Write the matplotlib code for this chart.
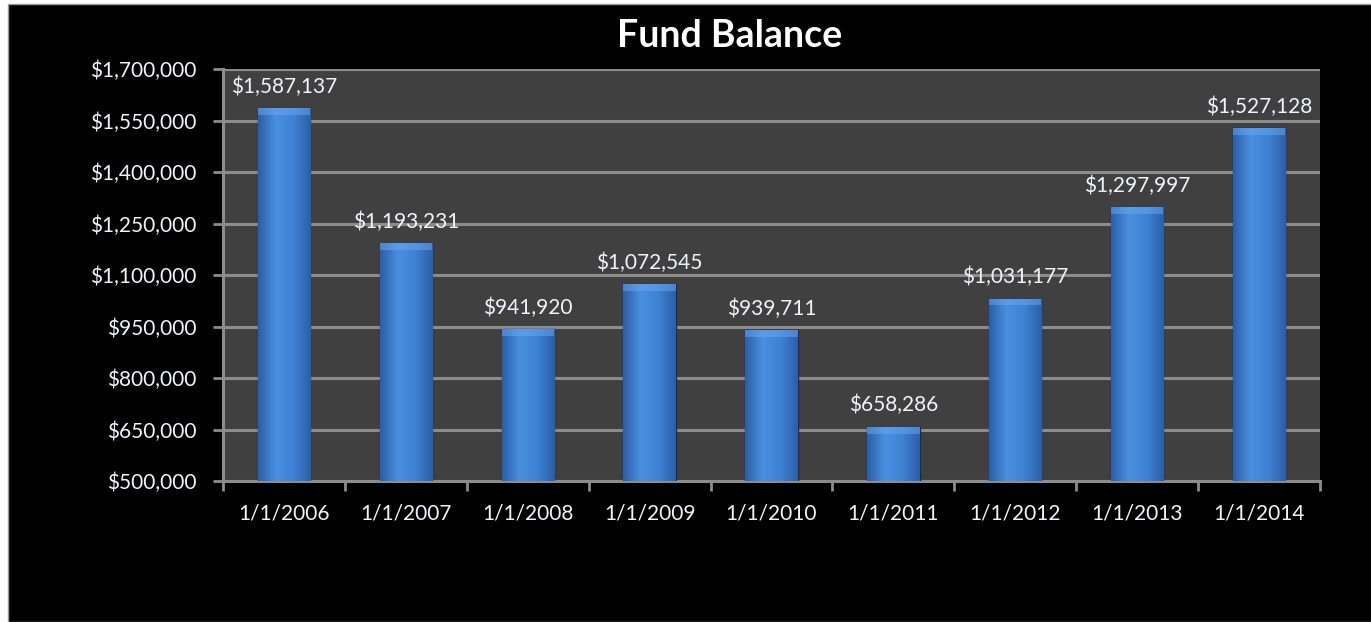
import matplotlib
matplotlib.use('Agg')
import matplotlib.pyplot as plt
import numpy as np
from matplotlib.colors import LinearSegmentedColormap
from matplotlib.patches import Rectangle
from matplotlib.ticker import FuncFormatter

dates = ['1/1/2006', '1/1/2007', '1/1/2008', '1/1/2009', '1/1/2010',
         '1/1/2011', '1/1/2012', '1/1/2013', '1/1/2014']
balance = [1587137, 1193231, 941920, 1072545, 939711,
           658286, 1031177, 1297997, 1527128]
y_ticks = [500000, 650000, 800000, 950000, 1100000, 1250000, 1400000, 1550000, 1700000]

plt.rcParams['font.family'] = ['Lato', 'DejaVu Sans']

fig = plt.figure(figsize=(13.71, 6.22), dpi=100)
fig.patch.set_facecolor('white')
fig.patches.append(Rectangle((8 / 1371, 0), 1, 1 - 4 / 622, transform=fig.transFigure,
                             facecolor='black', edgecolor='#9a9a9a', lw=1, zorder=-10))

ax = fig.add_axes([223 / 1371, 1 - 481 / 622, (1320 - 223) / 1371, (481 - 69) / 622])
ax.set_facecolor('#404040')

x = np.arange(len(dates))
bars = ax.bar(x, [v - y_ticks[0] for v in balance], bottom=y_ticks[0], width=0.43,
              color='#3a7acb', edgecolor='#1b2c55', lw=1, zorder=3)

# shaded bevel look, clipped to each bar
cmap = LinearSegmentedColormap.from_list('bevel', ['#2b5fa8', '#4a8fe0', '#3f82d4', '#2b5fa8'])
grad = np.linspace(0, 1, 64).reshape(1, -1)
for b in bars:
    x0, y0, w, h = b.get_x(), b.get_y(), b.get_width(), b.get_height()
    im = ax.imshow(grad, extent=[x0, x0 + w, y0, y0 + h], aspect='auto', cmap=cmap,
                   zorder=3.5, interpolation='bicubic')
    im.set_clip_path(b)
    top = Rectangle((x0, y0 + h - 20000), w, 20000, facecolor='#6aaaf4', edgecolor='none',
                    alpha=0.5, zorder=3.6)
    ax.add_patch(top)
    top.set_clip_path(b)

for xi, v in zip(x, balance):
    ax.annotate(f'${v:,.0f}', (xi, v), xytext=(0, 8), textcoords='offset points',
                ha='center', va='bottom', color='#f2f4f8', fontsize=15, zorder=5)

ax.set_xlim(-0.5, len(dates) - 0.5)
ax.set_ylim(y_ticks[0], y_ticks[-1])
ax.set_yticks(y_ticks)
ax.yaxis.set_major_formatter(FuncFormatter(lambda v, p: f'${v:,.0f}'))
ax.set_xticks(x)
ax.set_xticklabels(dates)
ax.set_xticks(np.arange(-0.5, len(dates)), minor=True)
ax.tick_params(axis='x', which='major', length=0, pad=16, labelcolor='#f2f4f8', labelsize=15)
ax.tick_params(axis='x', which='minor', length=7, width=2, color='#8c8c8c', direction='out')
ax.tick_params(axis='y', length=7, width=2, color='#8c8c8c', pad=12,
               labelcolor='#f2f4f8', labelsize=15)

ax.grid(axis='y', color='#8c8c8c', lw=2.2, zorder=1)
ax.set_axisbelow(True)
for side in ['top', 'right']:
    ax.spines[side].set_visible(False)
for side in ['left', 'bottom']:
    ax.spines[side].set_color('#8c8c8c')
    ax.spines[side].set_linewidth(2.2)

fig.text(730 / 1371, 1 - 36 / 622, 'Fund Balance', ha='center', va='center',
         color='white', fontsize=27, fontweight='bold')

fig.savefig('out.png', dpi=100, facecolor=fig.get_facecolor())
